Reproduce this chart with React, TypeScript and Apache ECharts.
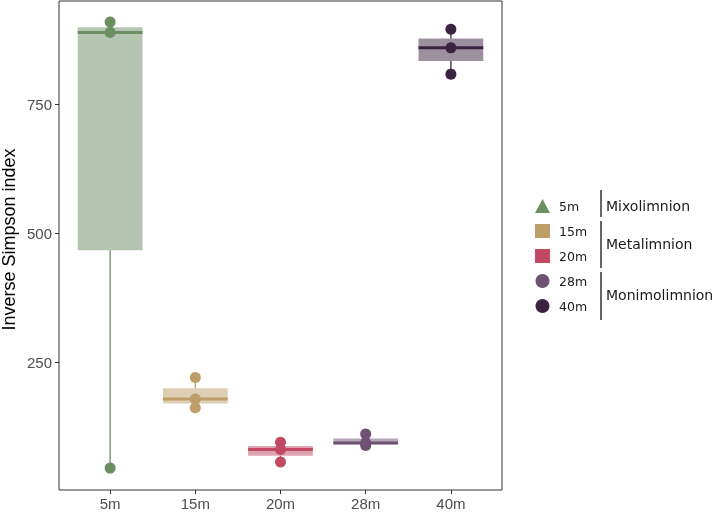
import React, { useEffect, useRef } from "react";
import * as echarts from "echarts";

const categories = ["5m", "15m", "20m", "28m", "40m"];
const pts5m = [44, 890, 910];
const pts15m = [161, 178, 220];
const pts20m = [56, 80, 94];
const pts28m = [88, 93, 110];
const pts40m = [809, 860, 896];
const yTicks = [250, 500, 750];
const colors = ["#6b8e62", "#bd9e68", "#c14a62", "#6e5173", "#3b2341"];
const fills = [
  "rgba(107,142,98,0.5)",
  "rgba(189,158,104,0.5)",
  "rgba(193,74,98,0.5)",
  "rgba(110,81,115,0.5)",
  "rgba(59,35,65,0.5)",
];
const legendIcons = ["triangle", "rect", "rect", "circle", "circle"];
const groups = [
  { label: "Mixolimnion", y1: 190, y2: 217, ty: 206 },
  { label: "Metalimnion", y1: 221, y2: 268, ty: 244 },
  { label: "Monimolimnion", y1: 272, y2: 320, ty: 295 },
];

const allPoints = [pts5m, pts15m, pts20m, pts28m, pts40m];

function quantile(sorted: number[], p: number) {
  const h = (sorted.length - 1) * p;
  const lo = Math.floor(h);
  const hi = Math.ceil(h);
  return sorted[lo] + (h - lo) * (sorted[hi] - sorted[lo]);
}

const BOX_W = 0.76;

export default function App() {
  const ref = useRef<HTMLDivElement>(null);
  useEffect(() => {
    if (!ref.current) return;
    const chart = echarts.init(ref.current, null, { renderer: "svg" });
    const boxData = allPoints.map((p, i) => {
      const s = [...p].sort((a, b) => a - b);
      return [i, s[0], quantile(s, 0.25), quantile(s, 0.5), quantile(s, 0.75), s[s.length - 1]];
    });
    const font = "Liberation Sans, Arial, sans-serif";
    const option: any = {
      animation: false,
      grid: {
        left: 59,
        right: 212,
        top: 1,
        bottom: 22,
        show: true,
        borderColor: "#333",
        borderWidth: 1,
        backgroundColor: "transparent",
        containLabel: false,
        outerBoundsMode: "none",
      },
      xAxis: {
        type: "value",
        min: -0.6,
        max: 4.6,
        axisLine: { show: false, onZero: false },
        splitLine: { show: false },
        axisTick: { show: true, length: 4, customValues: [0, 1, 2, 3, 4], lineStyle: { color: "#333" } },
        axisLabel: {
          customValues: [0, 1, 2, 3, 4],
          formatter: (v: number) => categories[Math.round(v)],
          color: "#4d4d4d",
          fontSize: 15,
          fontFamily: font,
          margin: 6,
        },
      },
      yAxis: {
        type: "value",
        min: 1.5,
        max: 951,
        name: "Inverse Simpson index",
        nameLocation: "middle",
        nameGap: 41,
        nameMoveOverlap: false,
        nameTextStyle: { color: "#000", fontSize: 18, fontFamily: font, padding: [0, 0, 0, 12] },
        axisLine: { show: false, onZero: false },
        splitLine: { show: false },
        axisTick: { show: true, length: 4, customValues: yTicks, lineStyle: { color: "#333" } },
        axisLabel: {
          customValues: yTicks,
          color: "#4d4d4d",
          fontSize: 15,
          fontFamily: font,
          margin: 7,
        },
      },
      legend: {
        orient: "vertical",
        left: 530,
        top: 194,
        itemWidth: 15,
        itemHeight: 14,
        itemGap: 11,
        selectedMode: false,
        textStyle: { fontSize: 12.5, color: "#1a1a1a", fontFamily: "DejaVu Sans, sans-serif", padding: [0, 0, 0, 4] },
        data: categories.map((c, i) => ({ name: c, icon: legendIcons[i] })),
      },
      graphic: groups.flatMap((g) => [
        {
          type: "line",
          shape: { x1: 601, y1: g.y1, x2: 601, y2: g.y2 },
          style: { stroke: "#333", lineWidth: 1.5 },
        },
        {
          type: "text",
          x: 606,
          y: g.ty,
          style: {
            text: g.label,
            fontSize: 14,
            fontFamily: "DejaVu Sans, sans-serif",
            fill: "#1a1a1a",
            verticalAlign: "middle",
          },
        },
      ]),
      series: [
        {
          type: "custom",
          name: "boxes",
          data: boxData,
          z: 1,
          renderItem: (params: any, api: any) => {
            const x = api.value(0);
            const lo = api.coord([x, api.value(1)]);
            const q1 = api.coord([x, api.value(2)]);
            const med = api.coord([x, api.value(3)]);
            const q3 = api.coord([x, api.value(4)]);
            const hi = api.coord([x, api.value(5)]);
            const w = api.size([BOX_W, 0])[0];
            const c = colors[x];
            return {
              type: "group",
              children: [
                { type: "line", shape: { x1: lo[0], y1: lo[1], x2: q1[0], y2: q1[1] }, style: { stroke: c, lineWidth: 1.3 } },
                { type: "line", shape: { x1: q3[0], y1: q3[1], x2: hi[0], y2: hi[1] }, style: { stroke: c, lineWidth: 1.3 } },
                { type: "rect", shape: { x: q3[0] - w / 2, y: q3[1], width: w, height: q1[1] - q3[1] }, style: { fill: fills[x] } },
                { type: "line", shape: { x1: med[0] - w / 2, y1: med[1], x2: med[0] + w / 2, y2: med[1] }, style: { stroke: c, lineWidth: 3 } },
              ],
            };
          },
        },
        ...categories.map((c, i) => ({
          type: "scatter",
          name: c,
          z: 3,
          symbol: "circle",
          symbolSize: 11,
          itemStyle: { color: colors[i], opacity: 1 },
          data: allPoints[i].map((v) => [i, v]),
        })),
      ],
    };
    chart.setOption(option);
    return () => chart.dispose();
  }, []);
  return <div ref={ref} style={{ position: "fixed", left: 0, top: 0, width: 714, height: 512 }} />;
}
